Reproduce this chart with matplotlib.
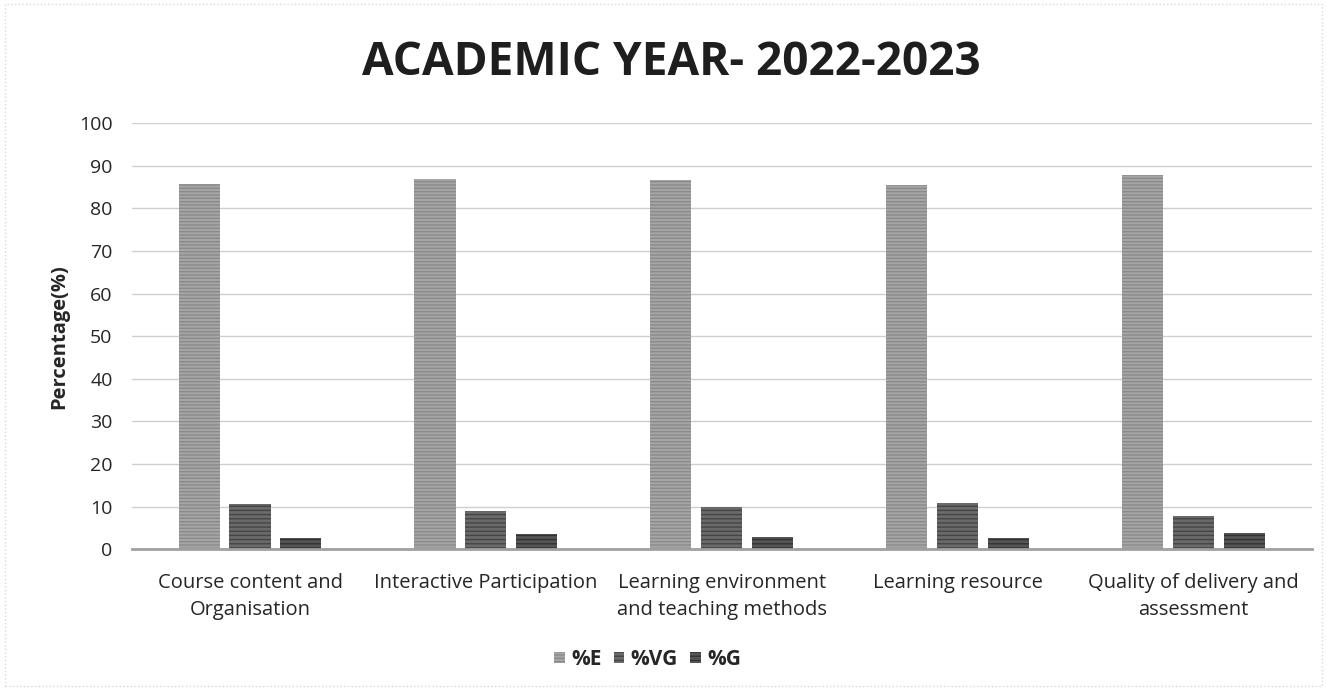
import matplotlib
matplotlib.use("Agg")
import matplotlib.pyplot as plt
import numpy as np

categories = ["Course content and\nOrganisation", "Interactive Participation",
              "Learning environment\nand teaching methods", "Learning resource",
              "Quality of delivery and\nassessment"]
series_names = ["%E", "%VG", "%G"]
pct_E = [85.8, 87.0, 86.8, 85.6, 87.8]
pct_VG = [10.7, 9.0, 10.0, 10.8, 7.8]
pct_G = [2.6, 3.6, 2.8, 2.7, 3.7]
yticks = [0, 10, 20, 30, 40, 50, 60, 70, 80, 90, 100]

plt.rcParams['font.family'] = ['Open Sans', 'DejaVu Sans']
plt.rcParams['hatch.linewidth'] = 1.0

fig = plt.figure(figsize=(13.27, 6.89), dpi=100)
ax = fig.add_axes([0.0995, 0.203, 0.889, 0.618])

x = np.arange(len(categories))
w = 0.174
step = 0.216
styles = [
    dict(color="#a6a6a6", hatch="-----", edgecolor="#8a8a8a"),
    dict(color="#6a6a6a", hatch="----", edgecolor="#454545"),
    dict(color="#555555", hatch="----", edgecolor="#333333"),
]
for i, (vals, name) in enumerate(zip([pct_E, pct_VG, pct_G], series_names)):
    st = styles[i]
    ax.bar(x + (i - 1) * step, vals, width=w, color=st["color"], hatch=st["hatch"],
           edgecolor=st["edgecolor"], linewidth=0, label=name, zorder=3)

ax.set_xlim(-0.5, len(categories) - 0.5)
ax.set_ylim(0, 100)
ax.set_yticks(yticks)
ax.set_xticks(x)
ax.set_xticklabels(categories, fontsize=14.5, color="#262626", linespacing=1.5)
ax.tick_params(axis='y', labelsize=14, colors="#262626", length=0, pad=14)
ax.tick_params(axis='x', length=0, pad=17)
ax.grid(axis='y', color="#cfcfcf", linewidth=1.0, zorder=0)
for s in ["top", "right", "left"]:
    ax.spines[s].set_visible(False)
ax.spines["bottom"].set_color("#a0a0a0")
ax.spines["bottom"].set_linewidth(2.0)
ax.spines["bottom"].set_zorder(4)

ax.set_ylabel("Percentage(%)", fontsize=14.5, fontweight="bold", color="#262626")
ax.yaxis.set_label_coords(-0.053, 0.5)
fig.text(0.506, 0.91, "ACADEMIC YEAR- 2022-2023", ha="center", va="center",
         fontsize=33, fontweight="bold", color="#1e1e1e")

leg = fig.legend(loc="center", bbox_to_anchor=(0.488, 0.043), ncol=3, frameon=False,
                 prop={"weight": "bold", "size": 15}, handlelength=0.5, handleheight=0.5,
                 handletextpad=0.3, columnspacing=0.6)
for t in leg.get_texts():
    t.set_color("#262626")

fig.patches.append(plt.Rectangle((0.004, 0.004), 0.992, 0.99, transform=fig.transFigure,
                                 fill=False, edgecolor="#d8d8d8", linewidth=1, linestyle=":"))

fig.savefig("out.png", dpi=100)
